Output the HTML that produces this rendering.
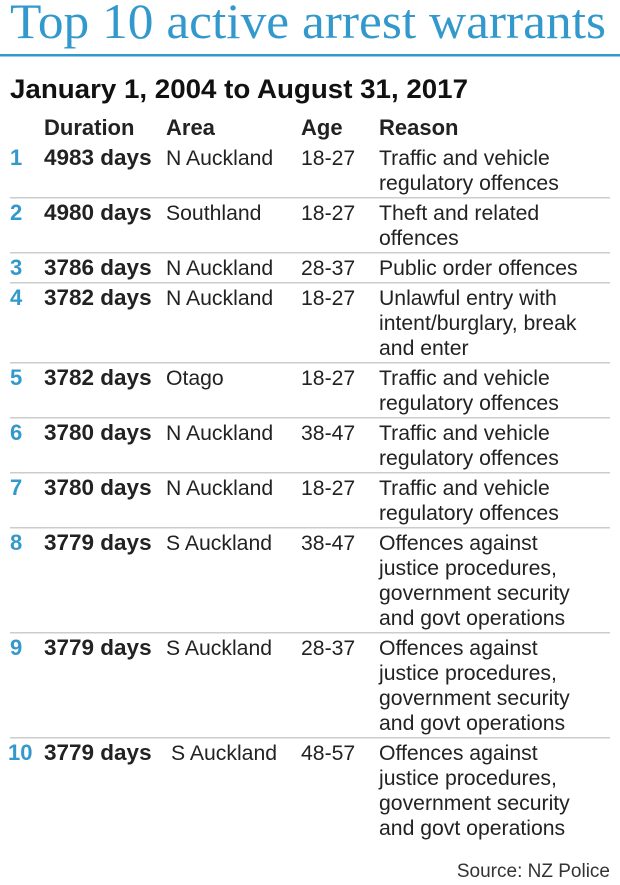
<!DOCTYPE html>
<html><head><meta charset="utf-8"><style>
html,body{margin:0;padding:0;background:#fff}
svg{display:block}
text{font-family:"Liberation Sans",sans-serif;font-size:21.2px;fill:#222}
.b{font-weight:bold;font-size:22.5px}
.h{font-weight:bold;font-size:22px}
.n{font-weight:bold;fill:#3399cc;font-size:22px}
</style></head><body>
<svg width="620" height="885" viewBox="0 0 620 885">
<text x="10" y="38" style="font-family:'Liberation Serif',serif;font-size:50px;fill:#3399cc" textLength="596" lengthAdjust="spacingAndGlyphs">Top 10 active arrest warrants</text>
<rect x="0" y="54" width="620" height="2.5" fill="#3399cc"/>
<text x="10" y="98" style="font-weight:bold;font-size:27px;fill:#111" textLength="458" lengthAdjust="spacingAndGlyphs">January 1, 2004 to August 31, 2017</text>
<text x="44" y="135" class="h">Duration</text><text x="166" y="135" class="h">Area</text><text x="301" y="135" class="h">Age</text><text x="379" y="135" class="h">Reason</text>
<g fill="#ccc">
<rect x="10" y="197" width="600" height="1.5"/><rect x="10" y="252" width="600" height="1.5"/><rect x="10" y="282" width="600" height="1.5"/><rect x="10" y="362" width="600" height="1.5"/><rect x="10" y="417" width="600" height="1.5"/><rect x="10" y="472" width="600" height="1.5"/><rect x="10" y="527" width="600" height="1.5"/><rect x="10" y="632" width="600" height="1.5"/><rect x="10" y="737" width="600" height="1.5"/>
</g>
<text x="10" y="165" class="n">1</text><text x="44" y="165" class="b">4983 days</text><text x="166" y="165">N Auckland</text><text x="301" y="165">18-27</text><text x="379" y="165">Traffic and vehicle</text><text x="379" y="190">regulatory offences</text>
<text x="10" y="220" class="n">2</text><text x="44" y="220" class="b">4980 days</text><text x="166" y="220">Southland</text><text x="301" y="220">18-27</text><text x="379" y="220">Theft and related</text><text x="379" y="245">offences</text>
<text x="10" y="275" class="n">3</text><text x="44" y="275" class="b">3786 days</text><text x="166" y="275">N Auckland</text><text x="301" y="275">28-37</text><text x="379" y="275">Public order offences</text>
<text x="10" y="305" class="n">4</text><text x="44" y="305" class="b">3782 days</text><text x="166" y="305">N Auckland</text><text x="301" y="305">18-27</text><text x="379" y="305">Unlawful entry with</text><text x="379" y="330">intent/burglary, break</text><text x="379" y="355">and enter</text>
<text x="10" y="385" class="n">5</text><text x="44" y="385" class="b">3782 days</text><text x="166" y="385">Otago</text><text x="301" y="385">18-27</text><text x="379" y="385">Traffic and vehicle</text><text x="379" y="410">regulatory offences</text>
<text x="10" y="440" class="n">6</text><text x="44" y="440" class="b">3780 days</text><text x="166" y="440">N Auckland</text><text x="301" y="440">38-47</text><text x="379" y="440">Traffic and vehicle</text><text x="379" y="465">regulatory offences</text>
<text x="10" y="495" class="n">7</text><text x="44" y="495" class="b">3780 days</text><text x="166" y="495">N Auckland</text><text x="301" y="495">18-27</text><text x="379" y="495">Traffic and vehicle</text><text x="379" y="520">regulatory offences</text>
<text x="10" y="550" class="n">8</text><text x="44" y="550" class="b">3779 days</text><text x="166" y="550">S Auckland</text><text x="301" y="550">38-47</text><text x="379" y="550">Offences against</text><text x="379" y="575">justice procedures,</text><text x="379" y="600">government security</text><text x="379" y="625">and govt operations</text>
<text x="10" y="655" class="n">9</text><text x="44" y="655" class="b">3779 days</text><text x="166" y="655">S Auckland</text><text x="301" y="655">28-37</text><text x="379" y="655">Offences against</text><text x="379" y="680">justice procedures,</text><text x="379" y="705">government security</text><text x="379" y="730">and govt operations</text>
<text x="8" y="760" class="n">10</text><text x="44" y="760" class="b">3779 days</text><text x="171" y="760">S Auckland</text><text x="301" y="760">48-57</text><text x="379" y="760">Offences against</text><text x="379" y="785">justice procedures,</text><text x="379" y="810">government security</text><text x="379" y="835">and govt operations</text>
<text x="610" y="877" text-anchor="end" style="font-size:19px;fill:#333">Source: NZ Police</text>
</svg>
</body></html>
